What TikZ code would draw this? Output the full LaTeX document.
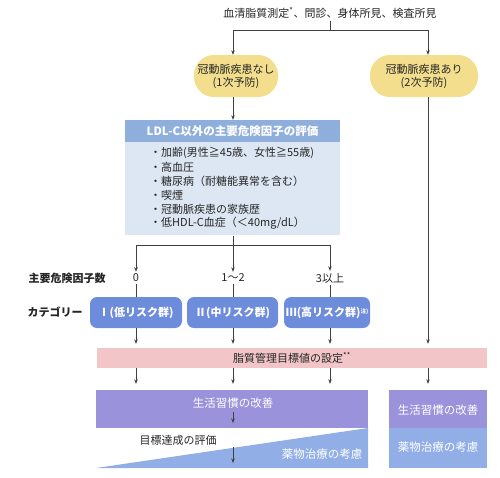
\documentclass[tikz,border=0pt]{standalone}
\usepackage{fontspec}
\setmainfont{Noto Sans CJK JP}
\usetikzlibrary{arrows.meta}
\definecolor{pillY}{HTML}{F3DE8E}
\definecolor{hdrB}{HTML}{8EAEDC}
\definecolor{bodyB}{HTML}{DDE7F3}
\definecolor{catB}{HTML}{6E8CDC}
\definecolor{pinkB}{HTML}{F2C6C8}
\definecolor{purpB}{HTML}{9A92DA}
\definecolor{bluB}{HTML}{92AEE6}
\definecolor{lineC}{HTML}{404040}
\begin{document}
\begin{tikzpicture}[x=1pt,y=-1pt,
  every node/.style={font=\fontsize{11}{13}\selectfont, inner sep=2pt, text=black!85},
  ln/.style={draw=lineC, line width=0.6pt},
  arr/.style={ln, -{Stealth[length=4.5pt,width=3.5pt]}},
  pill/.style={fill=pillY, rounded corners=20pt, minimum height=42pt, align=center, font=\fontsize{11}{13}\selectfont},
  catpill/.style={fill=catB, rounded corners=7pt, minimum height=31pt, text=white, font=\fontsize{11}{13}\selectfont\bfseries},
  wtxt/.style={text=white, font=\fontsize{11.5}{13}\selectfont},
  lbl/.style={font=\fontsize{11}{13}\selectfont\bfseries},
  bl/.style={anchor=west, inner sep=0pt}
]
\useasboundingbox (0,0) rectangle (500,477);

% top
\node (top) at (330,13) {血清脂質測定\textsuperscript{*}、問診、身体所見、検査所見};
\coordinate (j1) at (330,30);
\coordinate (jl) at (233,30);
\coordinate (jr) at (428,30);
\draw[ln] (top.south) -- (j1);
\draw[ln] (jl) -- (jr);

\node[pill, minimum width=84pt] (p1) at (236,76) {冠動脈疾患なし\\(1次予防)};
\node[pill, minimum width=108pt] (p2) at (424,76) {冠動脈疾患あり\\(2次予防)};
\draw[arr] (jl) -- (jl |- p1.north);
\draw[arr] (jr) -- (jr |- p2.north);

% evaluation box
\node[fill=hdrB, minimum width=215pt, minimum height=22pt, text=white, font=\fontsize{11.5}{13}\selectfont\bfseries] (hdr) at (232.5,131) {LDL-C以外の主要危険因子の評価};
\node[fill=bodyB, minimum width=215pt, minimum height=93pt, anchor=north] (body) at (hdr.south) {};
\draw[arr] (jl |- p1.south) -- (jl |- hdr.north);

\node[bl] (b1) at (150,153) {・加齢(男性≧45歳、女性≧55歳)};
\node[bl] (b2) at (150,167) {・高血圧};
\node[bl] (b3) at (150,181) {・糖尿病（耐糖能異常を含む）};
\node[bl] (b4) at (150,195) {・喫煙};
\node[bl] (b5) at (150,209) {・冠動脈疾患の家族歴};
\node[bl] (b6) at (150,223) {・低HDL-C血症（＜40mg/dL）};

\coordinate (j2) at (233,245);
\coordinate (j2l) at (136,245);
\coordinate (j2r) at (330,245);
\draw[ln] (j2 |- body.south) -- (j2);
\draw[ln] (j2l) -- (j2r);

% counts
\node[lbl] (lc) at (67,278) {主要危険因子数};
\node (n0) at (136,278) {0};
\node (n1) at (233,278) {1〜2};
\node (n2) at (330,278) {3以上};
\draw[arr] (j2l) -- (n0.north);
\draw[arr] (j2) -- (n1.north);
\draw[arr] (j2r) -- (n2.north);

% categories
\node[lbl] (lk) at (55,312) {カテゴリー};
\node[catpill, minimum width=92pt] (c1) at (136,312.5) {Ⅰ(低リスク群)};
\node[catpill, minimum width=91pt] (c2) at (232.5,312.5) {Ⅱ(中リスク群)};
\node[catpill, minimum width=86pt, inner sep=1pt] (c3) at (327,312.5) {Ⅲ(高リスク群)\raisebox{3pt}{\fontsize{5.5}{7}\selectfont 注)}};
\draw[ln] (n0.south) -- (n0 |- c1.north);
\draw[ln] (n1.south) -- (n1 |- c2.north);
\draw[ln] (n2.south) -- (n2 |- c3.north);

% pink band
\node[fill=pinkB, minimum width=390pt, minimum height=20pt] (pk) at (292,358) {脂質管理目標値の設定\textsuperscript{**}};
\draw[arr, shorten >=4pt] (n0 |- c1.south) -- (n0 |- pk.north);
\draw[arr, shorten >=4pt] (n1 |- c2.south) -- (n1 |- pk.north);
\draw[arr, shorten >=4pt] (n2 |- c3.south) -- (n2 |- pk.north);
\draw[arr, shorten >=4pt] (jr |- p2.south) -- (jr |- pk.north);

% bottom left
\node[fill=purpB, minimum width=272pt, minimum height=38pt, inner sep=0pt] (lp) at (232,409) {};
\fill[bluB] (96,468) -- (368,428) -- (368,468) -- cycle;
\node[wtxt] (lpt) at (233,403) {生活習慣の改善};
\node (ev) at (178,440) {目標達成の評価};
\node[wtxt] (lbt) at (322,454) {薬物治療の考慮};
\coordinate (a1s) at (233,412);
\coordinate (a1e) at (233,423);
\coordinate (a2s) at (233,447);
\coordinate (a2e) at (233,463);
\draw[arr] (a1s) -- (a1e);
\draw[arr] (a2s) -- (a2e);

% bottom right
\node[fill=purpB, minimum width=98pt, minimum height=38pt, inner sep=0pt] (rp) at (438,409) {};
\node[fill=bluB, minimum width=98pt, minimum height=40pt, inner sep=0pt, anchor=north] (rb) at (rp.south) {};
\node[wtxt] (rpt) at (438,410) {生活習慣の改善};
\node[wtxt] (rbt) at (438,447) {薬物治療の考慮};

% arrows from pink band
\draw[arr, shorten >=6pt] (n0 |- pk.south) -- (n0 |- lp.north);
\draw[arr, shorten >=6pt] (n1 |- pk.south) -- (n1 |- lp.north);
\draw[arr, shorten >=6pt] (n2 |- pk.south) -- (n2 |- lp.north);
\draw[arr, shorten >=6pt] (jr |- pk.south) -- (jr |- rp.north);
\end{tikzpicture}
\end{document}
